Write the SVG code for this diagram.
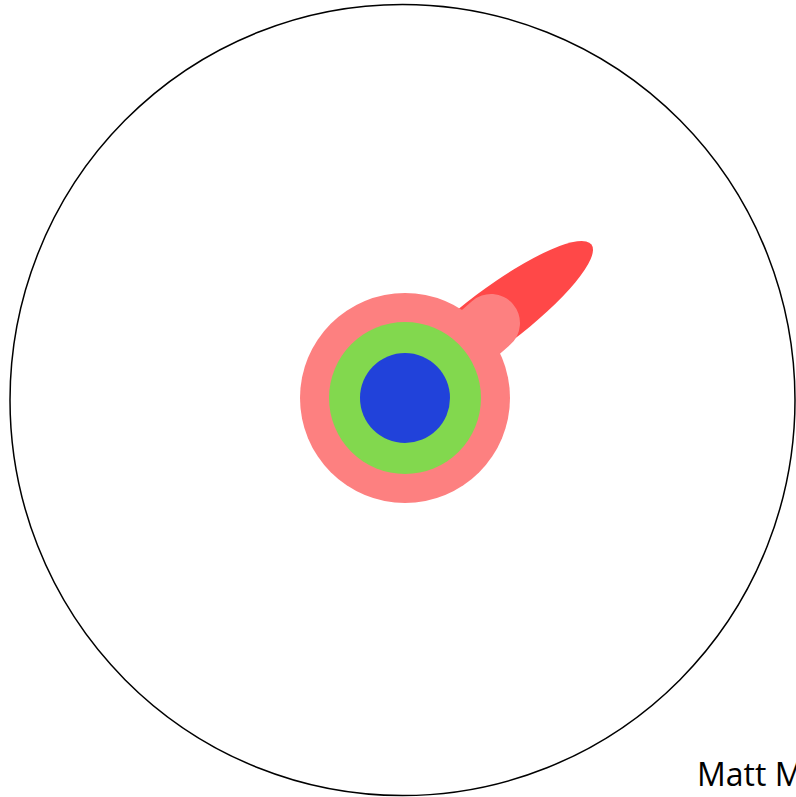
<svg xmlns="http://www.w3.org/2000/svg" width="796" height="797" viewBox="0 0 796 797">
<style>
.outline{fill:none;stroke:#000;stroke-width:1.5}
.pink{fill:#fd8080}
.label{font-family:"Open Sans","DejaVu Sans",sans-serif;font-size:32px;fill:#000}
</style>
<rect width="796" height="797" fill="#fff"/>
<g id="dial">
<ellipse class="outline" cx="402.5" cy="400" rx="392.5" ry="395.5"/>
</g>
<g id="needle">
<ellipse cx="494" cy="318" rx="122" ry="29" transform="rotate(-37 494 318)" fill="#ff4848"/>
</g>
<g id="hub">
<line x1="405" y1="398" x2="491" y2="323" stroke="#fd8080" stroke-width="58" stroke-linecap="round"/>
<circle class="pink" cx="405" cy="398" r="105"/>
<circle cx="405" cy="398" r="76" fill="#82d84e"/>
<circle cx="405" cy="398" r="45" fill="#2142da"/>
</g>
<g id="author">
<text class="label" x="697" y="786">Matt M</text>
</g>
</svg>
